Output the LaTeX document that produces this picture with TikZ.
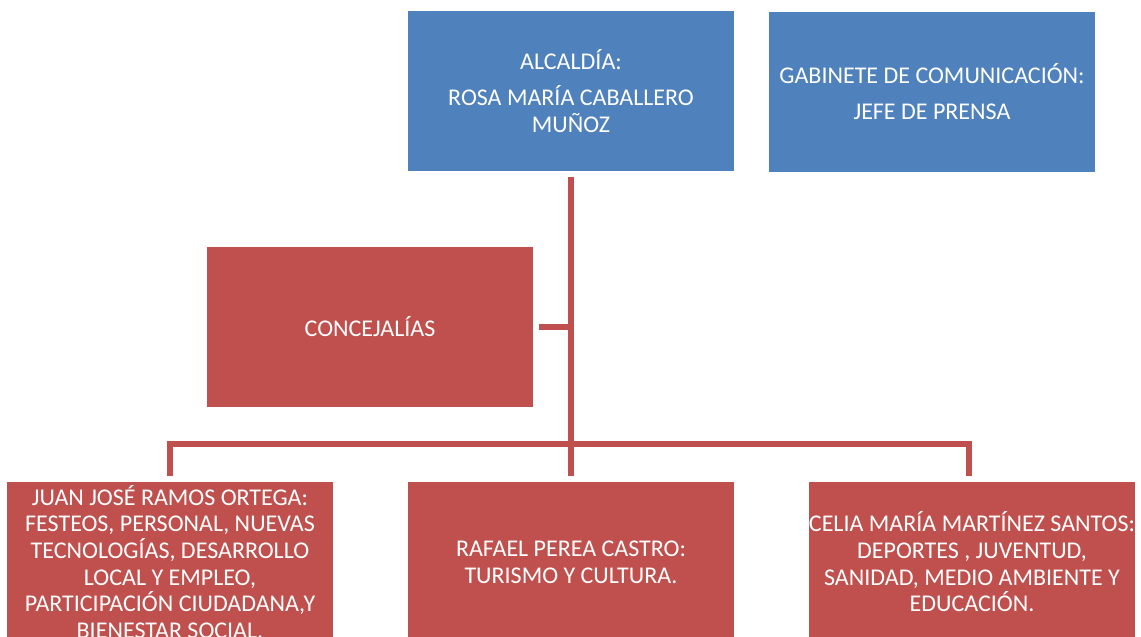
\documentclass[tikz,border=0pt]{standalone}
\usepackage{fontspec}
\setmainfont{Carlito}
\usetikzlibrary{calc}
\definecolor{orgblue}{HTML}{4F81BD}
\definecolor{orgred}{HTML}{C0504D}
\begin{document}
\begin{tikzpicture}[x=0.75pt, y=-0.75pt,
    font=\fontsize{18pt}{20pt}\selectfont,
    box/.style={rectangle, inner sep=0pt, minimum width=244.5pt, minimum height=120pt,
      text=white, align=center},
    bluebox/.style={box, fill=orgblue},
    redbox/.style={box, fill=orgred},
    link/.style={draw=orgred, line width=4.5pt}]
  \useasboundingbox (0,0) rectangle (1141,636);

  % top row
  \node[bluebox] (alc) at (571,91) {ALCALDÍA:\\[7.5pt]ROSA MARÍA CABALLERO\\MUÑOZ};
  \node[bluebox] (gab) at (932,91.5) {GABINETE DE COMUNICACIÓN:\\[7.5pt]JEFE DE PRENSA};

  \node[redbox] (conc) at (370,326.5) {CONCEJALÍAS};

  % concejales
  \node[redbox] (juan) at (170,562) {JUAN JOSÉ RAMOS ORTEGA:\\FESTEOS, PERSONAL, NUEVAS\\TECNOLOGÍAS, DESARROLLO\\LOCAL Y EMPLEO,\\PARTICIPACIÓN CIUDADANA,Y\\BIENESTAR SOCIAL.};
  \node[redbox] (raf) at (571,562) {RAFAEL PEREA CASTRO:\\TURISMO Y CULTURA.};
  \node[redbox] (celia) at (972,562) {CELIA MARÍA MARTÍNEZ SANTOS:\\DEPORTES , JUVENTUD,\\SANIDAD, MEDIO AMBIENTE Y\\EDUCACIÓN.};

  \coordinate (bus) at (571,444);
  \draw[link] ([yshift=-4pt]alc.south) -- ([yshift=4.5pt]raf.north);
  \draw[link] ([xshift=4pt]conc.east) -- (conc.east -| alc.south);
  \draw[link] ([yshift=4.5pt]juan.north) |- (bus) -| ([yshift=4.5pt,xshift=-2pt]celia.north);
\end{tikzpicture}
\end{document}
